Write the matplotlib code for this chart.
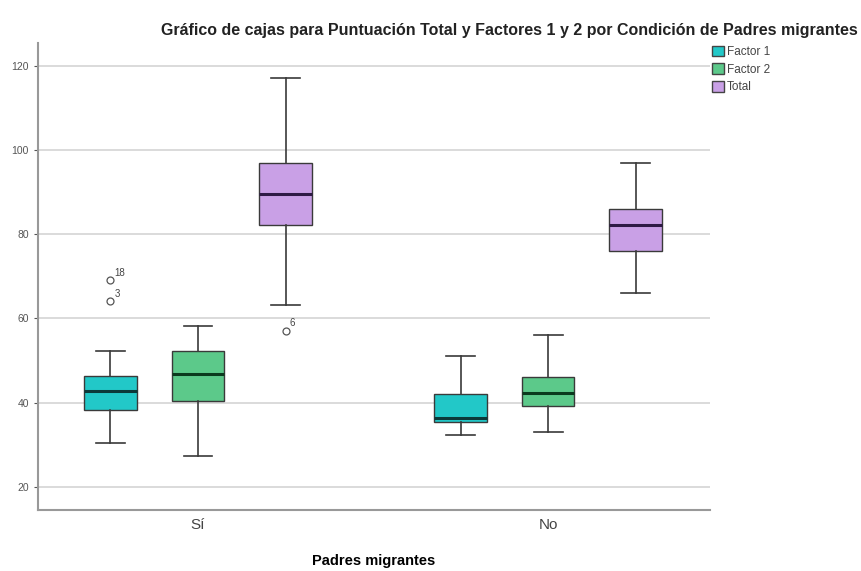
import numpy as np
import matplotlib
matplotlib.use("Agg")
import matplotlib.pyplot as plt
from matplotlib.patches import Patch

plt.rcParams['font.family'] = ['Liberation Sans', 'DejaVu Sans']

# ── data ─────────────────────────────────────────────────────────────────────
groups = ["Sí", "No"]
series = ["Factor 1", "Factor 2", "Total"]
colors = ["#22C8C8", "#5CC98A", "#C9A0E6"]
median_colors = ["#0B3A3A", "#0B3A1E", "#2E1A45"]

# whislo, q1, med, q3, whishi per group (Sí, No)
factor1_stats = [[30.4, 38.3, 42.7, 46.4, 52.3], [32.2, 35.3, 36.3, 42.1, 51.1]]
factor2_stats = [[27.4, 40.3, 46.8, 52.3, 58.2], [33.0, 39.2, 42.3, 46.1, 56.1]]
total_stats = [[63.1, 82.2, 89.5, 97.0, 117.1], [66.0, 76.1, 82.1, 86.0, 97.0]]

factor1_outliers = [[69.1, 64.2], []]
factor1_outlier_ids = [["18", "3"], []]
factor2_outliers = [[], []]
factor2_outlier_ids = [[], []]
total_outliers = [[57.1], []]
total_outlier_ids = [["6"], []]

all_stats = [factor1_stats, factor2_stats, total_stats]
all_outliers = [factor1_outliers, factor2_outliers, total_outliers]
all_ids = [factor1_outlier_ids, factor2_outlier_ids, total_outlier_ids]

yticks = [20, 40, 60, 80, 100, 120]

# ── figure ───────────────────────────────────────────────────────────────────
fig = plt.figure(figsize=(8.62, 5.71), dpi=100)
ax = fig.add_axes([0.044, 0.107, 0.78, 0.818])

offsets = [-0.25, 0.0, 0.25]
width = 0.15
for s, name in enumerate(series):
    stats = []
    for g in range(len(groups)):
        lo, q1, med, q3, hi = all_stats[s][g]
        stats.append(dict(whislo=lo, q1=q1, med=med, q3=q3, whishi=hi,
                          fliers=all_outliers[s][g], label=groups[g]))
    pos = [g + offsets[s] for g in range(len(groups))]
    ax.bxp(stats, positions=pos, widths=width, patch_artist=True,
           showfliers=True, manage_ticks=False,
           boxprops=dict(facecolor=colors[s], edgecolor="#3a3a3a", linewidth=1),
           medianprops=dict(color=median_colors[s], linewidth=2.2),
           whiskerprops=dict(color="#3a3a3a", linewidth=1.2),
           capprops=dict(color="#3a3a3a", linewidth=1.2),
           capwidths=width * 0.55,
           flierprops=dict(marker="o", markerfacecolor="white",
                           markeredgecolor="#555555", markersize=5,
                           markeredgewidth=0.9))
    for g in range(len(groups)):
        for v, lab in zip(all_outliers[s][g], all_ids[s][g]):
            ax.annotate(lab, (pos[g], v), xytext=(3, 3), textcoords="offset points",
                        fontsize=7, color="#444444")

ax.set_xlim(-0.457, 1.463)
ax.set_ylim(14.5, 125.5)
ax.set_yticks(yticks)
ax.set_xticks([0, 1])
ax.set_xticklabels(groups, fontsize=11, color="#444444")
ax.tick_params(axis="y", labelsize=7.5, colors="#555555", length=3)
ax.tick_params(axis="x", length=0, pad=6)
ax.grid(axis="y", color="#d4d4d4", linewidth=1.2)
ax.set_axisbelow(True)
for sp in ["top", "right"]:
    ax.spines[sp].set_visible(False)
for sp in ["left", "bottom"]:
    ax.spines[sp].set_color("#999999")
    ax.spines[sp].set_linewidth(1.5)

ax.set_xlabel("Padres migrantes", fontsize=10.5, fontweight="bold", labelpad=16)
fig.text(0.995, 0.947, "Gráfico de cajas para Puntuación Total y Factores 1 y 2 por Condición de Padres migrantes",
         ha="right", va="center", fontsize=11.5, fontweight="bold", color="#222222")

handles = [Patch(facecolor=c, edgecolor="#444444", label=n) for c, n in zip(colors, series)]
fig.legend(handles=handles, loc="upper left", bbox_to_anchor=(0.826, 0.92),
           frameon=False, fontsize=8.5, handlelength=1.0, handleheight=1.0,
           handletextpad=0.25, labelspacing=0.45, labelcolor="#444444",
           borderaxespad=0, borderpad=0)

fig.savefig("out.png", dpi=100)
